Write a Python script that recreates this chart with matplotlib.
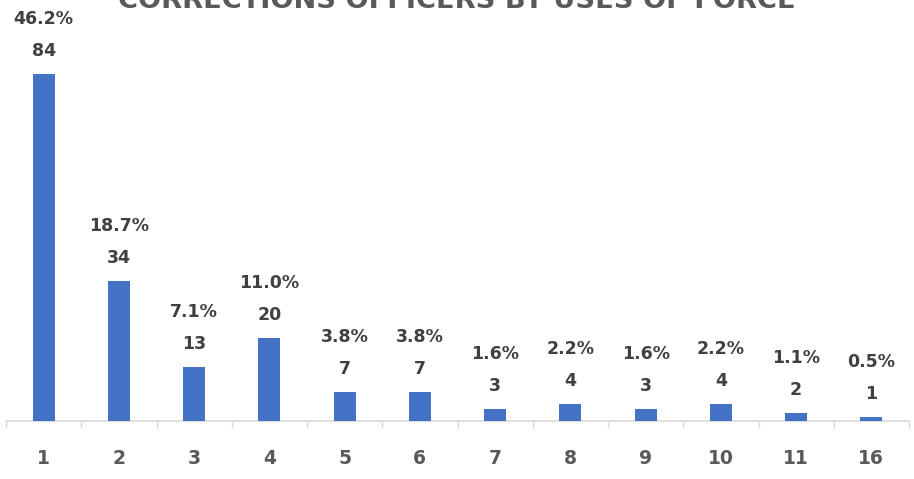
import matplotlib
matplotlib.use("Agg")
import matplotlib.pyplot as plt
from matplotlib.ticker import FixedLocator

title = "CORRECTIONS OFFICERS BY USES OF FORCE"
categories = ["1", "2", "3", "4", "5", "6", "7", "8", "9", "10", "11", "16"]
counts = [84, 34, 13, 20, 7, 7, 3, 4, 3, 4, 2, 1]
percents = [46.2, 18.7, 7.1, 11.0, 3.8, 3.8, 1.6, 2.2, 1.6, 2.2, 1.1, 0.5]

W, H = 914, 479
fig = plt.figure(figsize=(W / 100, H / 100), dpi=100)
fig.patch.set_facecolor("white")
ax = fig.add_axes([6 / W, 58 / H, 903 / W, 421 / H])

x = list(range(len(categories)))
ax.bar(x, counts, width=0.29, color="#4472C4", zorder=3)
ax.set_xlim(-0.5, len(categories) - 0.5)
ax.set_ylim(0, 102)

for xi, c, p in zip(x, counts, percents):
    ax.annotate(f"{c}", (xi, c), xytext=(0, 23 * 0.72), textcoords="offset points",
                ha="center", va="center", fontsize=12.5, fontweight="bold", color="#404040")
    ax.annotate(f"{p:.1f}%", (xi, c), xytext=(0, 55 * 0.72), textcoords="offset points",
                ha="center", va="center", fontsize=12.5, fontweight="bold", color="#404040")

ax.set_xticks(x)
ax.set_xticklabels(categories, fontsize=13.5, fontweight="bold", color="#595959")
ax.tick_params(axis="x", which="major", length=0, pad=20)
ax.xaxis.set_minor_locator(FixedLocator([i - 0.5 for i in range(len(categories) + 1)]))
ax.tick_params(axis="x", which="minor", length=5, color="#D9D9D9", width=1)
ax.set_yticks([])
for s in ["top", "right", "left"]:
    ax.spines[s].set_visible(False)
ax.spines["bottom"].set_color("#D9D9D9")
ax.spines["bottom"].set_linewidth(1.2)
ax.set_facecolor("none")

fig.text(457 / W, 1 - 8 / H, title, ha="center", va="baseline",
         fontsize=19.6, fontweight="bold", color="#595959")

fig.savefig("out.png", dpi=100)
